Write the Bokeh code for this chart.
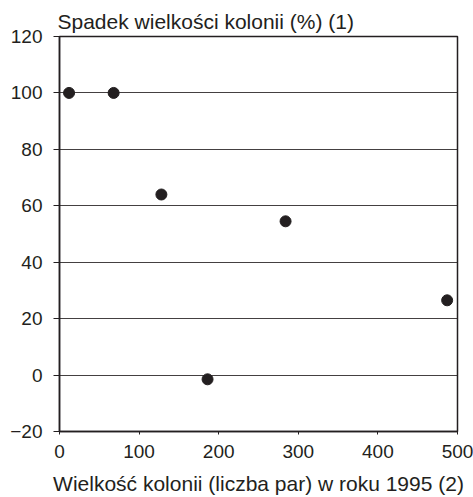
from bokeh.plotting import figure
from bokeh.models import Range1d, FixedTicker
from bokeh.embed import file_html
from bokeh.resources import INLINE

colony_size_1995 = [12, 68, 128, 186, 284, 487]
decline_pct = [100, 100, 64, -1.5, 54.5, 26.5]
x_ticks = [0, 100, 200, 300, 400, 500]
y_ticks = [-20, 0, 20, 40, 60, 80, 100, 120]
title_text = "Spadek wielkości kolonii (%) (1)"
x_label = "Wielkość kolonii (liczba par) w roku 1995 (2)"

FONT = "Liberation Sans"
INK = "#231f20"

p = figure(width=473, height=497, output_backend="svg", toolbar_location=None,
           x_range=Range1d(0, 500), y_range=Range1d(-20, 120),
           min_border_left=59, min_border_right=16, min_border_top=36, min_border_bottom=66,
           title=title_text)

p.title.text_font = FONT
p.title.text_font_size = "21px"
p.title.text_font_style = "normal"
p.title.text_color = INK
p.title.align = "left"
p.title.offset = -2
p.title.standoff = 8

p.scatter(colony_size_1995, decline_pct, size=11, color=INK)

p.outline_line_color = INK
p.outline_line_width = 1.5
p.outline_line_alpha = 1

p.xgrid.visible = False
p.ygrid.ticker = FixedTicker(ticks=y_ticks)
p.ygrid.grid_line_color = INK
p.ygrid.grid_line_width = 1
p.ygrid.grid_line_alpha = 0.85

p.xaxis.ticker = FixedTicker(ticks=x_ticks)
p.yaxis.ticker = FixedTicker(ticks=y_ticks)

for ax in (p.xaxis, p.yaxis):
    ax.axis_line_color = INK
    ax.axis_line_width = 1.5
    ax.major_tick_line_color = INK
    ax.major_tick_in = 0
    ax.minor_tick_line_color = None
    ax.major_label_text_font = FONT
    ax.major_label_text_font_size = "19px"
    ax.major_label_text_color = INK

p.yaxis.major_tick_out = 6
p.yaxis.major_label_standoff = 11
p.xaxis.major_tick_out = 3
p.xaxis.major_label_standoff = 10

p.xaxis.axis_label = x_label
p.xaxis.axis_label_text_font = FONT
p.xaxis.axis_label_text_font_size = "21px"
p.xaxis.axis_label_text_font_style = "normal"
p.xaxis.axis_label_text_color = INK
p.xaxis.axis_label_standoff = 11

p.background_fill_color = "white"
p.border_fill_color = "white"

open("out.html", "w").write(file_html(p, INLINE))
